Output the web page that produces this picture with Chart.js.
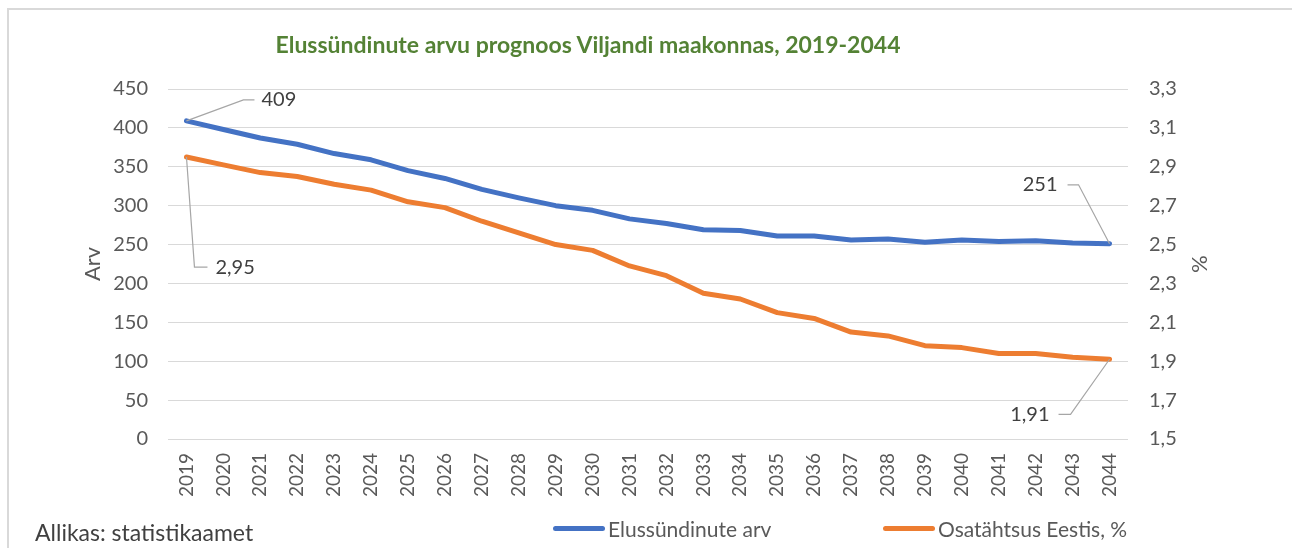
<!DOCTYPE html>
<html>
<head>
<meta charset="utf-8">
<script src="https://cdn.jsdelivr.net/npm/chart.js@4.4.1/dist/chart.umd.min.js"></script>
<style>
  body { margin: 0; background: #fff; font-family: Lato, sans-serif; }
  #wrap { position: relative; width: 1292px; height: 548px; overflow: hidden; }
  #frame { position: absolute; left: 7px; top: 8px; width: 1400px; height: 700px;
           border-left: 2px solid #d9d9d9; border-top: 2px solid #d9d9d9; }
  #chart { position: absolute; left: 0; top: 0; }
  #title { position: absolute; left: 0; width: 1176px; top: 30px; line-height: 28px; text-align: center;
           font-size: 23px; font-weight: bold; color: #548235; }
  #source { position: absolute; left: 35px; top: 518px; font-size: 23px; color: #404040; }
  #legend { position: absolute; left: 553px; top: 516px; display: flex; }
  .item { display: flex; align-items: center; font-size: 21px; color: #595959; }
  .item:first-child { width: 330px; }
  .swatch { width: 52px; height: 5px; border-radius: 3px; margin-right: 3px; }
</style>
</head>
<body>
<div id="wrap">
  <div id="frame"></div>
  <canvas id="chart" width="1292" height="548"></canvas>
  <div id="title">Elussündinute arvu prognoos Viljandi maakonnas, 2019-2044</div>
  <div id="source">Allikas: statistikaamet</div>
  <div id="legend"></div>
</div>
<script>
  let years = ['2019','2020','2021','2022','2023','2024','2025','2026','2027','2028','2029','2030','2031',
               '2032','2033','2034','2035','2036','2037','2038','2039','2040','2041','2042','2043','2044'];
  let births = [409,398,387,379,367,359,345,335,321,310,300,294,283,277,269,268,261,261,256,257,253,256,254,255,252,251];
  let share = [2.95,2.91,2.87,2.85,2.81,2.78,2.72,2.69,2.62,2.56,2.50,2.47,2.39,
               2.34,2.25,2.22,2.15,2.12,2.05,2.03,1.98,1.97,1.94,1.94,1.92,1.91];

  let blue = '#4472c4';
  let orange = '#ed7d31';

  function comma(v, d) {
    return v.toFixed(d).replace('.', ',');
  }

  // leader lines + value labels at first/last points
  const callouts = {
    id: 'callouts',
    afterDatasetsDraw(chart, args, opts) {
      const ctx = chart.ctx;
      ctx.save();
      ctx.strokeStyle = '#a6a6a6';
      ctx.lineWidth = 1.2;
      ctx.font = '20px Lato';
      ctx.fillStyle = '#404040';
      ctx.textBaseline = 'middle';
      opts.items.forEach((c) => {
        const pt = chart.getDatasetMeta(c.ds).data[c.i];
        const v = chart.data.datasets[c.ds].data[c.i];
        ctx.beginPath();
        ctx.moveTo(pt.x, pt.y);
        ctx.lineTo(pt.x + c.ex, pt.y + c.ey);
        ctx.lineTo(pt.x + c.lx, pt.y + c.ey);
        ctx.stroke();
        ctx.textAlign = c.lx > 0 ? 'left' : 'right';
        ctx.fillText(comma(v, c.dec), pt.x + c.tx, pt.y + c.ey);
      });
      ctx.restore();
    }
  };

  const htmlLegend = {
    id: 'htmlLegend',
    afterUpdate(chart) {
      const box = document.getElementById('legend');
      box.innerHTML = '';
      chart.data.datasets.forEach((ds) => {
        const item = document.createElement('div');
        item.className = 'item';
        const sw = document.createElement('span');
        sw.className = 'swatch';
        sw.style.background = ds.borderColor;
        item.appendChild(sw);
        item.appendChild(document.createTextNode(ds.label));
        box.appendChild(item);
      });
    }
  };

  let ctxChart = document.getElementById('chart');

  var chart = new Chart(ctxChart, {
    type: 'line',
    data: {
      labels: years,
      datasets: [
        {
          label: 'Elussündinute arv',
          data: births,
          yAxisID: 'y',
          borderColor: blue,
          backgroundColor: blue,
          borderWidth: 5,
          pointRadius: 0,
          borderCapStyle: 'round',
          borderJoinStyle: 'round',
          fill: false
        },
        {
          label: 'Osatähtsus Eestis, %',
          data: share,
          yAxisID: 'y1',
          borderColor: orange,
          backgroundColor: orange,
          borderWidth: 5,
          pointRadius: 0,
          borderCapStyle: 'round',
          borderJoinStyle: 'round',
          fill: false
        }
      ]
    },
    options: {
      responsive: false,
      animation: false,
      layout: { padding: { top: 89, left: 0, right: 0, bottom: 0 } },
      plugins: {
        legend: { display: false },
        tooltip: { enabled: false },
        title: { display: false },
        callouts: {
          items: [
            { ds: 0, i: 0, ex: 57, ey: -21, lx: 68, tx: 75, dec: 0 },
            { ds: 1, i: 0, ex: 8, ey: 110, lx: 21, tx: 29, dec: 2 },
            { ds: 0, i: 25, ex: -31, ey: -59, lx: -42, tx: -52, dec: 0 },
            { ds: 1, i: 25, ex: -39, ey: 55, lx: -51, tx: -60, dec: 2 }
          ]
        }
      },
      scales: {
        x: {
          offset: true,
          grid: { display: false },
          border: { display: false },
          ticks: {
            autoSkip: false,
            minRotation: 90,
            maxRotation: 90,
            padding: 6,
            color: '#595959',
            font: { family: 'Lato', size: 19 }
          },
          afterFit(s) { s.height = 109; }
        },
        y: {
          position: 'left',
          min: 0,
          max: 450,
          grid: { color: '#d9d9d9', lineWidth: 1, drawTicks: false },
          border: { display: false },
          ticks: {
            stepSize: 50,
            padding: 20,
            color: '#595959',
            font: { family: 'Lato', size: 20 }
          },
          title: {
            display: true,
            text: 'Arv',
            color: '#595959',
            font: { family: 'Lato', size: 22 },
            padding: { top: 80, bottom: 0 }
          },
          afterFit(s) { s.width = 168; }
        },
        y1: {
          position: 'right',
          min: 1.5,
          max: 3.3,
          grid: { display: false, drawTicks: false },
          border: { display: false },
          ticks: {
            stepSize: 0.2,
            padding: 21,
            color: '#595959',
            font: { family: 'Lato', size: 20 },
            callback: (v) => comma(v, 1)
          },
          title: {
            display: true,
            text: '%',
            color: '#595959',
            font: { family: 'Lato', size: 22 },
            padding: { top: 80, bottom: 0 }
          },
          afterFit(s) { s.width = 164; }
        }
      }
    },
    plugins: [callouts, htmlLegend]
  });
</script>
</body>
</html>
